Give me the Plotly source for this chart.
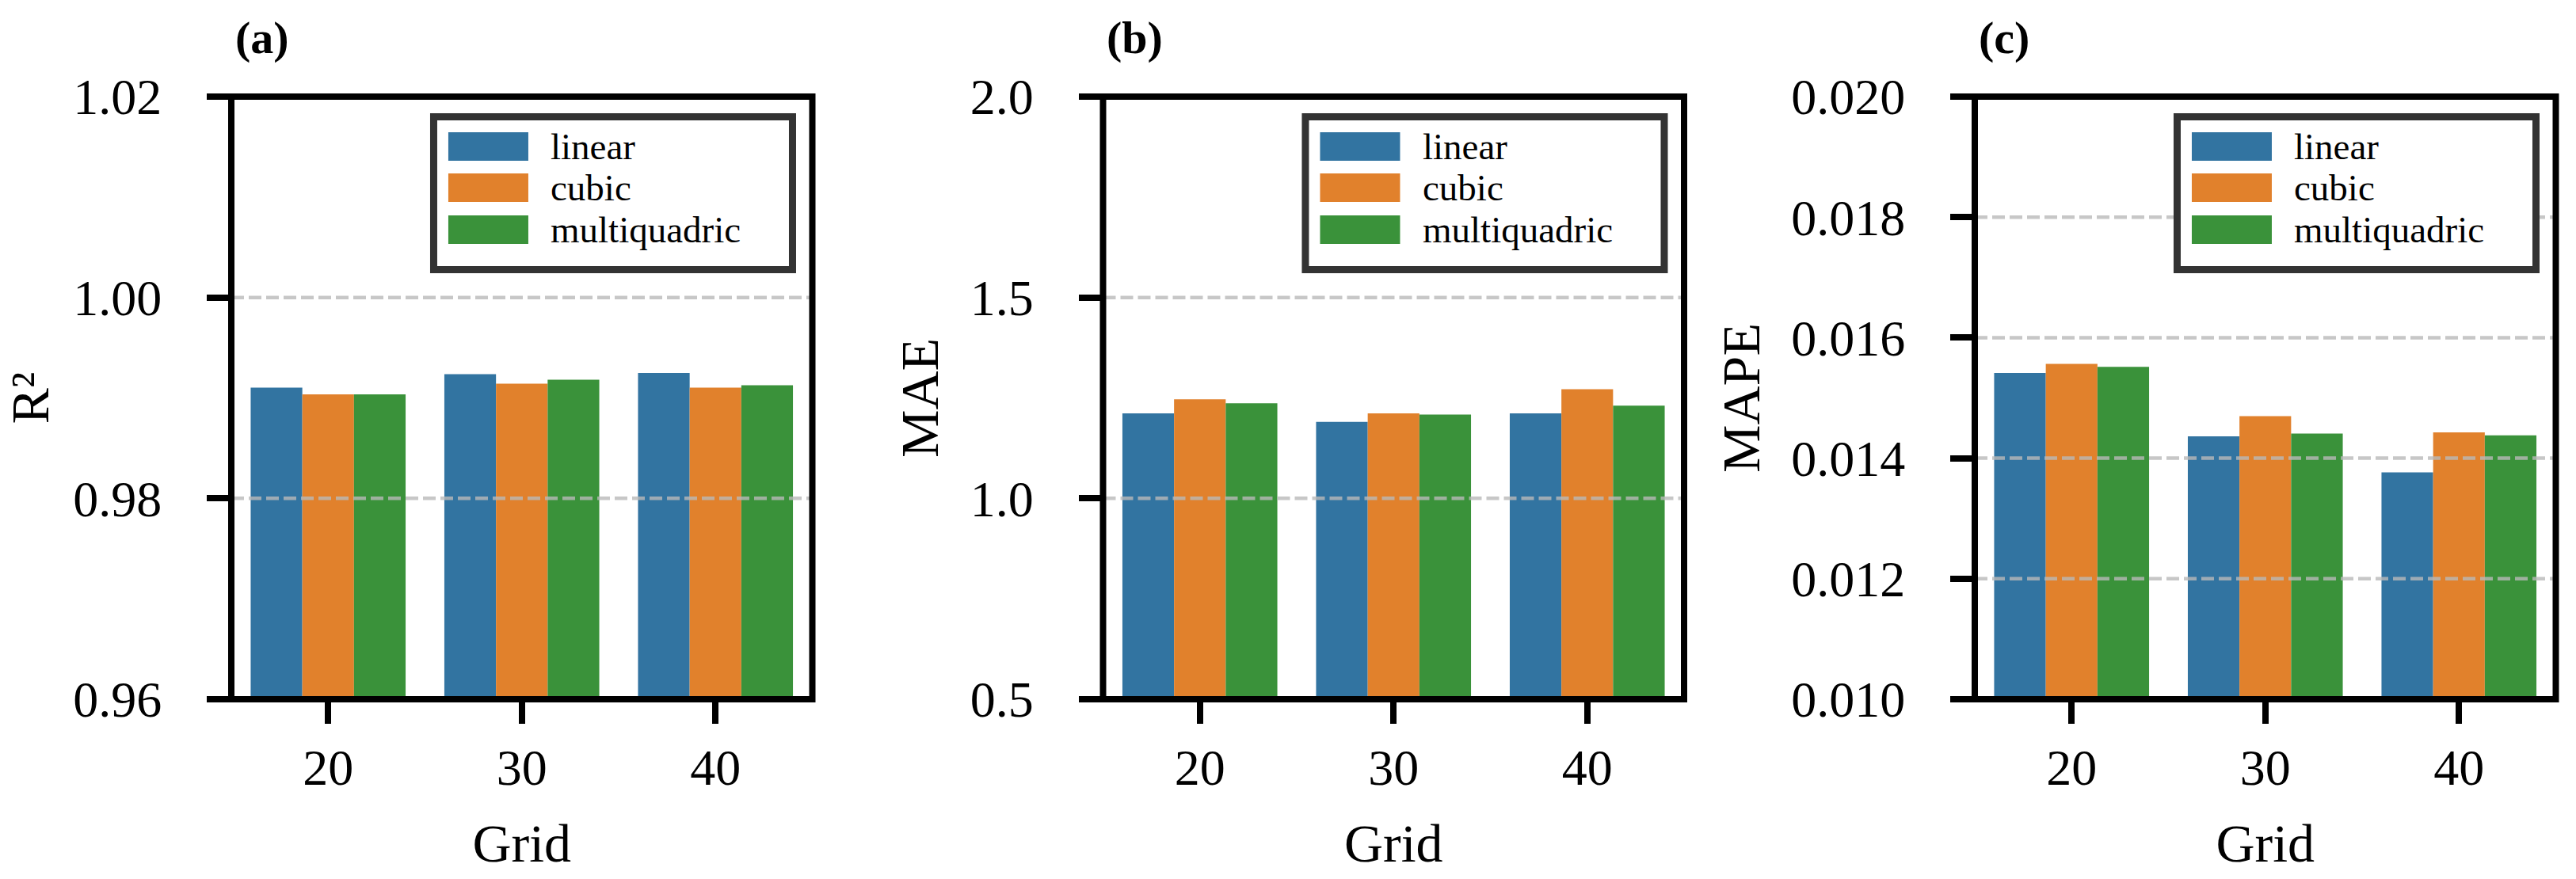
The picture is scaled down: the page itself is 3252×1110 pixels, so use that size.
import plotly.graph_objects as go

# ---------------- data ----------------
grids = ["20", "30", "40"]
methods = ["linear", "cubic", "multiquadric"]

r2_linear = [0.99103, 0.99237, 0.99249]
r2_cubic = [0.99036, 0.99142, 0.99103]
r2_multiquadric = [0.99036, 0.99181, 0.99126]

mae_linear = [1.2115, 1.1905, 1.2115]
mae_cubic = [1.2464, 1.2115, 1.2716]
mae_multiquadric = [1.2367, 1.2087, 1.2310]

mape_linear = [0.015415, 0.014362, 0.013765]
mape_cubic = [0.015564, 0.014697, 0.014427]
mape_multiquadric = [0.015517, 0.014408, 0.014380]

r2_ticks = [0.96, 0.98, 1.00, 1.02]
mae_ticks = [0.5, 1.0, 1.5, 2.0]
mape_ticks = [0.010, 0.012, 0.014, 0.016, 0.018, 0.020]

panel_labels = ["(a)", "(b)", "(c)"]
y_titles = ["R²", "MAE", "MAPE"]
x_title = "Grid"

# ---------------- style ----------------
colors = ["#3274a1", "#e1812c", "#3a923a"]
W, H = 3252, 1110
FONT = "Liberation Serif, Times New Roman, serif"
panel_left_px = [292, 1392.5, 2493]
panel_w_px = 733.5
top_px, bot_px = 122, 883

panels = [
    dict(series=[r2_linear, r2_cubic, r2_multiquadric], ticks=r2_ticks, fmt=".2f"),
    dict(series=[mae_linear, mae_cubic, mae_multiquadric], ticks=mae_ticks, fmt=".1f"),
    dict(series=[mape_linear, mape_cubic, mape_multiquadric], ticks=mape_ticks, fmt=".3f"),
]

fig = go.Figure()
shapes = []
annotations = []
ydom = [(H - bot_px) / H, (H - top_px) / H]

for i, p in enumerate(panels):
    n = "" if i == 0 else str(i + 1)
    xa, ya = "x" + n, "y" + n
    for m, vals, c in zip(methods, p["series"], colors):
        fig.add_trace(go.Bar(
            x=grids, y=vals, name=m, marker=dict(color=c, line=dict(width=0)),
            xaxis=xa, yaxis=ya, showlegend=False, offsetgroup=m,
        ))
    x0 = panel_left_px[i] / W
    x1 = (panel_left_px[i] + panel_w_px) / W
    fig.layout["xaxis" + n] = dict(
        domain=[x0, x1], anchor=ya, type="category", range=[-0.5, 2.5],
        automargin=False,
        showline=False, showgrid=False, zeroline=False,
        ticks="outside", ticklen=30, tickwidth=7.5, tickcolor="black",
        tickfont=dict(family=FONT, size=64, color="black"),
        title=dict(text=x_title, font=dict(family=FONT, size=68, color="black"), standoff=36),
    )
    fig.layout["yaxis" + n] = dict(
        domain=ydom, anchor=xa, range=[p["ticks"][0], p["ticks"][-1]],
        tickvals=p["ticks"], tickformat=p["fmt"],
        automargin=False, ticklabelstandoff=44,
        showline=False, showgrid=False, zeroline=False,
        ticks="outside", ticklen=30, tickwidth=7.5, tickcolor="black",
        tickfont=dict(family=FONT, size=64, color="black"),
        title=dict(text=y_titles[i], font=dict(family=FONT, size=68, color="black"), standoff=17),
    )
    xd, yd = xa + " domain", ya + " domain"
    # dashed grid lines (drawn above bars, like the reference)
    for t in p["ticks"][1:-1]:
        shapes.append(dict(type="line", xref=xd, yref=ya, x0=0, x1=1, y0=t, y1=t,
                           line=dict(color="rgba(185,185,185,0.8)", width=4.5, dash="16px,6px"),
                           layer="above"))
    # frame (spines)
    shapes.append(dict(type="rect", xref=xd, yref=yd, x0=0, x1=1, y0=0, y1=1,
                       line=dict(color="black", width=8), layer="above"))
    # legend box
    shapes.append(dict(type="rect", xref=xd, yref=yd, x0=0.3483, x1=0.9659, y0=0.7129, y1=0.9665,
                       line=dict(color="#333333", width=9), fillcolor="white", layer="above"))
    sw_top = [0.9409, 0.8725, 0.8029]
    sw_h = 36 / (bot_px - top_px)
    txt_y = [0.9172, 0.8489, 0.7792]
    for k, (m, c) in enumerate(zip(methods, colors)):
        shapes.append(dict(type="rect", xref=xd, yref=yd, x0=0.3735, x1=0.5112,
                           y0=sw_top[k] - sw_h, y1=sw_top[k], line=dict(width=0),
                           fillcolor=c, layer="above"))
        annotations.append(dict(xref=xd, yref=yd, x=0.5467, y=txt_y[k], text=m, showarrow=False,
                                xanchor="left", yanchor="middle",
                                font=dict(family=FONT, size=47, color="black")))
    annotations.append(dict(xref=xd, yref="paper", x=0.004, y=(H - 47) / H, text="<b>" + panel_labels[i] + "</b>",
                            showarrow=False, xanchor="left", yanchor="middle",
                            font=dict(family=FONT, size=58, color="black")))

fig.update_layout(
    width=W, height=H, margin=dict(l=0, r=0, t=0, b=0, autoexpand=False),
    paper_bgcolor="white", plot_bgcolor="white",
    barmode="group", bargap=0.2, bargroupgap=0,
    shapes=shapes, annotations=annotations, showlegend=False,
)
fig.write_html("out.html", config={"displayModeBar": False},
               post_script="document.body.style.margin='0px';")
